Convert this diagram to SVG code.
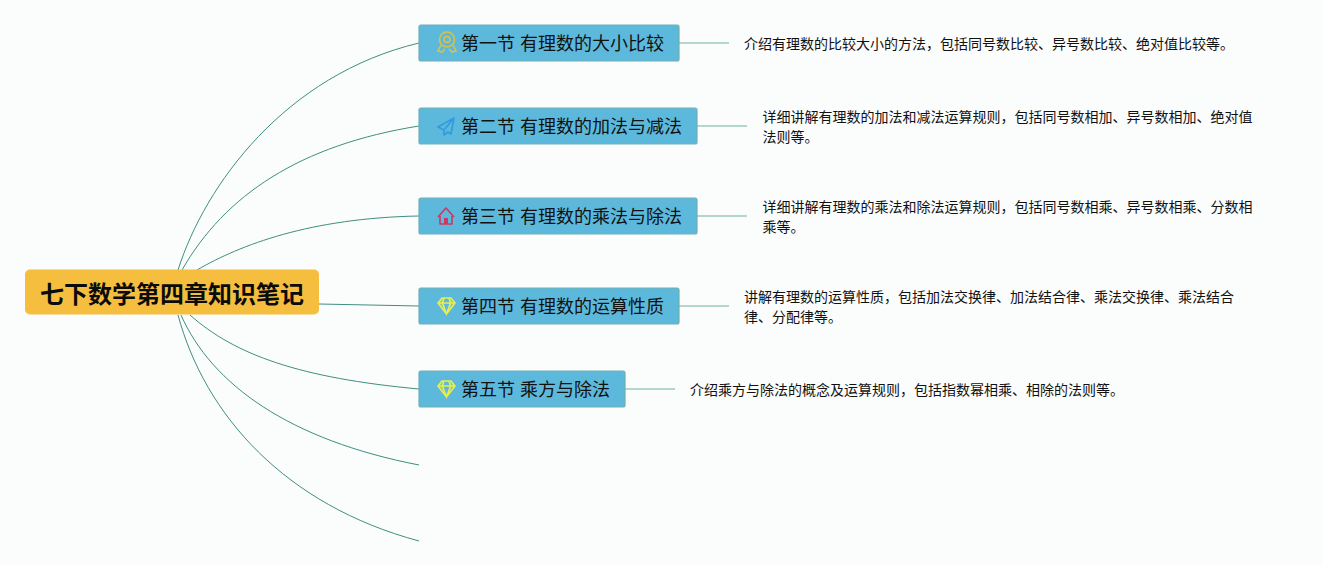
<svg xmlns="http://www.w3.org/2000/svg" width="1322" height="566" viewBox="0 0 1322 566">
<style>
text{font-family:"Liberation Sans","Noto Sans CJK SC",sans-serif;fill:#111}
.t{font-size:18px}
.d{font-size:14px}
.b{fill:#5cb9dc;stroke:#6fb0b4;stroke-width:1.2}
.c{fill:none;stroke:#3f8f80;stroke-width:1}
.s{fill:none;stroke:#9cc9c0;stroke-width:1.3}
.i{fill:none;stroke-width:1.6}
</style>
<rect width="1322" height="566" fill="#fbfcfc"/>
<g id="connectors">
<path class="c" d="M178 270C205 185 285 75 419 43"/>
<path class="c" d="M182 270C225 195 300 145 419 126"/>
<path class="c" d="M197 270C240 245 310 218 419 216"/>
<path class="c" d="M319 304L419 306"/>
<path class="c" d="M190 315C235 355 300 378 419 389"/>
<path class="c" d="M181 315C212 385 290 440 419 465"/>
<path class="c" d="M178 315C205 415 285 505 419 541"/>
<path class="s" d="M679 43H729M697 126H747M697 216H747M679 306H729M625 389H675"/>
</g>
<g id="root"><rect x="25" y="269.500" width="294" height="45" rx="5" fill="#f6be3e"/>
<text x="172" y="303" text-anchor="middle" font-size="24" font-weight="700" style="fill:#0b0b0b">七下数学第四章知识笔记</text></g>
<g id="n1"><rect class="b" x="419" y="25" width="260" height="36" rx="2"/>
<g class="i" stroke="#d9c24a"><circle cx="447" cy="39.500" r="7.500"/><circle cx="447" cy="39.500" r="3"/><path d="M441 45L438 51L442 52L445 49M453 45L456 51L452 52L449 49"/></g>
<text class="t" x="461" y="50">第一节 有理数的大小比较</text></g>
<g id="n2"><rect class="b" x="419" y="108" width="278" height="36" rx="2"/>
<path class="i" stroke="#2f9be0" stroke-linejoin="round" d="M454 118L438 127L444 130ZM454 118L444 130L444 135L448 132L451 134Z"/>
<text class="t" x="461" y="133">第二节 有理数的加法与减法</text></g>
<g id="n3"><rect class="b" x="419" y="198" width="278" height="36" rx="2"/>
<path class="i" stroke="#d0365f" stroke-linejoin="round" d="M438 217L446 208L454 217M440 216V224H452V216"/><rect x="444" y="218" width="4" height="6" fill="#d0365f"/>
<text class="t" x="461" y="223">第三节 有理数的乘法与除法</text></g>
<g id="n4"><rect class="b" x="419" y="288" width="260" height="36" rx="2"/>
<g class="i" stroke="#e8ee50"><path d="M442 298H451L455 303L446.500 314L438 303ZM438 303H455M444 298L442.500 303L446.500 314L450.500 303L449 298" fill="#d8e65c" fill-opacity=".35"/></g>
<text class="t" x="461" y="313">第四节 有理数的运算性质</text></g>
<g id="n5"><rect class="b" x="419" y="371" width="206" height="36" rx="2"/>
<g class="i" stroke="#e8ee50"><path d="M442 381H451L455 386L446.500 397L438 386ZM438 386H455M444 381L442.500 386L446.500 397L450.500 386L449 381" fill="#d8e65c" fill-opacity=".35"/></g>
<text class="t" x="461" y="396">第五节 乘方与除法</text></g>
<g id="d1"><text class="d" x="744" y="49">介绍有理数的比较大小的方法，包括同号数比较、异号数比较、绝对值比较等。</text></g>
<g id="d2"><text class="d" x="762.500" y="122">详细讲解有理数的加法和减法运算规则，包括同号数相加、异号数相加、绝对值</text><text class="d" x="762.500" y="142">法则等。</text></g>
<g id="d3"><text class="d" x="762.500" y="212">详细讲解有理数的乘法和除法运算规则，包括同号数相乘、异号数相乘、分数相</text><text class="d" x="762.500" y="232">乘等。</text></g>
<g id="d4"><text class="d" x="744" y="302">讲解有理数的运算性质，包括加法交换律、加法结合律、乘法交换律、乘法结合</text><text class="d" x="744" y="322">律、分配律等。</text></g>
<g id="d5"><text class="d" x="690" y="395">介绍乘方与除法的概念及运算规则，包括指数幂相乘、相除的法则等。</text></g>
</svg>
